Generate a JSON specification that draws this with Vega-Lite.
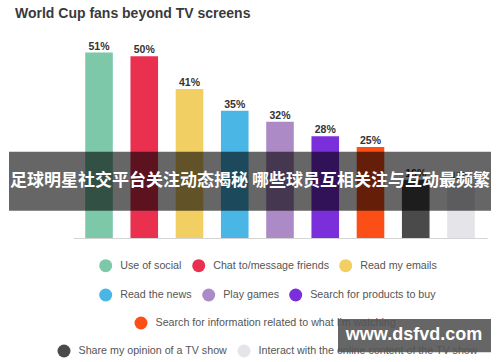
{
  "$schema": "https://vega.github.io/schema/vega-lite/v6.json",
  "width": 414,
  "height": 200,
  "autosize": {"type": "none"},
  "padding": {"left": 73, "top": 38, "right": 13, "bottom": 124},
  "background": "white",
  "title": {"text": "World Cup fans beyond TV screens", "anchor": "start", "frame": "group", "dx": -58, "offset": 6, "baseline": "alphabetic", "font": "Liberation Sans", "fontSize": 14, "fontWeight": "bold", "color": "#3a3a3a"},
  "data": {"values": [
    {"activity": "Use of social", "share": 0.51},
    {"activity": "Chat to/message friends", "share": 0.50},
    {"activity": "Read my emails", "share": 0.41},
    {"activity": "Read the news", "share": 0.35},
    {"activity": "Play games", "share": 0.32},
    {"activity": "Search for products to buy", "share": 0.28},
    {"activity": "Search for information related to what I'm watching", "share": 0.25},
    {"activity": "Share my opinion of a TV show", "share": 0.16},
    {"activity": "Interact with the online content of the TV show", "share": 0.15}
  ]},
  "layer": [
    {
      "transform": [{"filter": {"field": "activity", "oneOf": ["Use of social", "Chat to/message friends", "Read my emails"]}}],
      "mark": {"type": "bar"},
      "encoding": {
        "x": {"field": "activity", "type": "nominal", "scale": {"domain": ["Use of social", "Chat to/message friends", "Read my emails", "Read the news", "Play games", "Search for products to buy", "Search for information related to what I'm watching", "Share my opinion of a TV show", "Interact with the online content of the TV show"], "paddingInner": 0.39, "paddingOuter": 0.27}, "axis": {"labels": false, "ticks": false, "title": null, "domainColor": "#d4d4d4", "domainWidth": 1}},
        "y": {"field": "share", "type": "quantitative", "scale": {"domain": [0, 0.55]}, "axis": null},
        "color": {"field": "activity", "type": "nominal", "scale": {"domain": ["Use of social", "Chat to/message friends", "Read my emails"], "range": ["#7dc8a9", "#e9304f", "#f2cf62"]}, "legend": {"orient": "none", "direction": "horizontal", "legendX": 26.2, "legendY": 221.2, "title": null, "symbolType": "circle"}}
      }
    },
    {
      "transform": [{"filter": {"field": "activity", "oneOf": ["Read the news", "Play games", "Search for products to buy"]}}],
      "mark": {"type": "bar"},
      "encoding": {
        "x": {"field": "activity", "type": "nominal"},
        "y": {"field": "share", "type": "quantitative", "axis": null},
        "color": {"field": "activity", "type": "nominal", "scale": {"domain": ["Read the news", "Play games", "Search for products to buy"], "range": ["#4ab6e5", "#ac8ac6", "#7b2fdb"]}, "legend": {"orient": "none", "direction": "horizontal", "legendX": 26.2, "legendY": 250.5, "title": null, "symbolType": "circle"}}
      }
    },
    {
      "transform": [{"filter": {"field": "activity", "oneOf": ["Search for information related to what I'm watching"]}}],
      "mark": {"type": "bar"},
      "encoding": {
        "x": {"field": "activity", "type": "nominal"},
        "y": {"field": "share", "type": "quantitative", "axis": null},
        "color": {"field": "activity", "type": "nominal", "scale": {"domain": ["Search for information related to what I'm watching"], "range": ["#fc4f17"]}, "legend": {"orient": "none", "direction": "horizontal", "legendX": 61.5, "legendY": 278.5, "title": null, "symbolType": "circle"}}
      }
    },
    {
      "transform": [{"filter": {"field": "activity", "oneOf": ["Share my opinion of a TV show", "Interact with the online content of the TV show"]}}],
      "mark": {"type": "bar"},
      "encoding": {
        "x": {"field": "activity", "type": "nominal"},
        "y": {"field": "share", "type": "quantitative", "axis": null},
        "color": {"field": "activity", "type": "nominal", "scale": {"domain": ["Share my opinion of a TV show", "Interact with the online content of the TV show"], "range": ["#4a4a4b", "#e5e4e9"]}, "legend": {"orient": "none", "direction": "horizontal", "legendX": -15.5, "legendY": 306.5, "title": null, "symbolType": "circle"}}
      }
    },
    {
      "mark": {"type": "text", "baseline": "alphabetic", "dy": -3, "font": "Liberation Sans", "fontSize": 10.5, "fontWeight": "bold", "color": "#333333"},
      "encoding": {
        "x": {"field": "activity", "type": "nominal"},
        "y": {"field": "share", "type": "quantitative", "axis": null},
        "text": {"field": "share", "type": "quantitative", "format": ".0%"}
      }
    },
    {
      "data": {"values": [{}]},
      "mark": {"type": "rect", "color": "#000000", "opacity": 0.6},
      "encoding": {
        "x": {"value": -64},
        "x2": {"value": 418},
        "y": {"datum": 0.237, "type": "quantitative", "axis": null},
        "y2": {"datum": 0.075}
      }
    },
    {
      "data": {"values": [{}]},
      "mark": {"type": "text", "text": "足球明星社交平台关注动态揭秘 哪些球员互相关注与互动最频繁", "align": "center", "baseline": "middle", "font": "Noto Sans CJK SC", "fontSize": 17, "fontWeight": "bold", "color": "#ffffff"},
      "encoding": {
        "x": {"value": 177},
        "y": {"datum": 0.157, "type": "quantitative", "axis": null}
      }
    },
    {
      "data": {"values": [{}]},
      "mark": {"type": "rect", "color": "#000000", "opacity": 0.6},
      "encoding": {
        "x": {"value": 265},
        "x2": {"value": 418},
        "y": {"datum": -0.223, "type": "quantitative", "axis": null},
        "y2": {"datum": -0.314}
      }
    },
    {
      "data": {"values": [{}]},
      "mark": {"type": "text", "text": "www.dsfvd.com", "align": "center", "baseline": "middle", "font": "Liberation Sans", "fontSize": 18, "fontWeight": "bold", "color": "#ffffff"},
      "encoding": {
        "x": {"value": 341},
        "y": {"datum": -0.268, "type": "quantitative", "axis": null}
      }
    }
  ],
  "resolve": {"scale": {"color": "independent"}},
  "config": {
    "view": {"stroke": null},
    "axisY": {"disable": true},
    "legend": {"labelFont": "Liberation Sans", "labelFontSize": 10.7, "labelColor": "#555555", "symbolSize": 169, "symbolStrokeWidth": 0, "symbolOpacity": 1, "labelOffset": 8, "columnPadding": 10, "padding": 0, "labelLimit": 400}
  }
}
